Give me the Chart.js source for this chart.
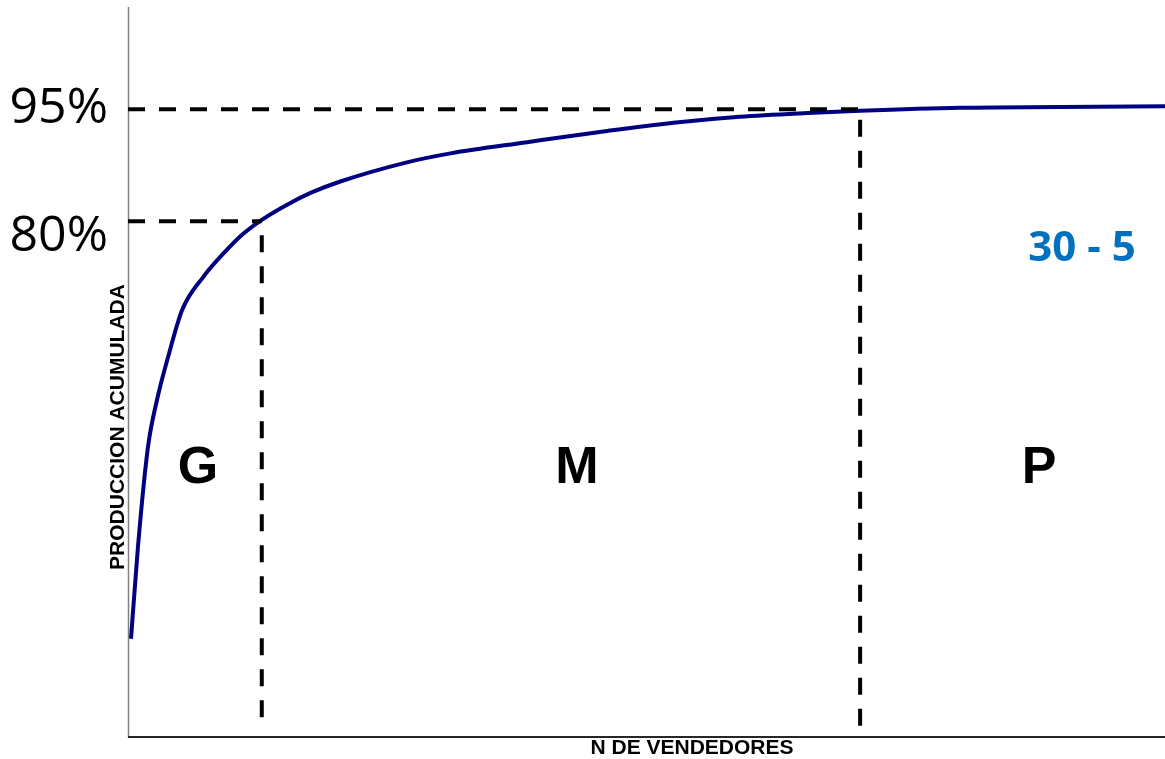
<!DOCTYPE html>
<html>
<head>
<meta charset="utf-8">
<script src="https://cdn.jsdelivr.net/npm/chart.js@4.4.1/dist/chart.umd.min.js"></script>
<style>
  html, body { margin: 0; padding: 0; background: #ffffff; }
  #wrap { width: 1165px; height: 759px; }
</style>
</head>
<body>
<div id="wrap"><canvas id="c" width="1165" height="759"></canvas></div>
<script>
// ---- data ----
const vendedores = [0.29, 0.96, 1.93, 2.80, 3.86, 5.21, 7.23, 9.55, 11.0, 12.9, 15.3, 17.6, 20.4, 26.9, 31.1, 38.5, 46.2, 52.6, 59.0, 65.5, 70.6, 80.2, 89.9, 100];
const produccion = [24.1, 36.4, 49.8, 56.1, 61.8, 68.1, 72.5, 76.2, 78.2, 80.2, 82.2, 83.8, 85.3, 87.9, 89.1, 90.6, 92.1, 93.2, 94.0, 94.5, 94.8, 95.2, 95.3, 95.4];
const cortesX = [12.9, 70.6];        // N de vendedores at the cut points
const cortesY = [80, 95];            // cumulative production at the cut points
const tickLabels = ['80%', '95%'];
const zonas = ['G', 'M', 'P'];
const zonasX = [6.75, 43.3, 87.85];
const zonaY = 47;
const nota = '30 - 5';
const yMin = 10.94, yMax = 108.7, xMin = 0, xMax = 100;

const curve = vendedores.map((x, i) => ({ x: x, y: produccion[i] }));

const dashStyle = {
  borderColor: '#000000', borderWidth: 4, borderDash: [17, 14],
  pointRadius: 0, showLine: true, fill: false, order: 0, tension: 0
};
const datasets = [
  Object.assign({}, dashStyle, { data: [{ x: xMin, y: cortesY[0] }, { x: cortesX[0], y: cortesY[0] }] }),
  Object.assign({}, dashStyle, { data: [{ x: xMin, y: cortesY[1] }, { x: cortesX[1], y: cortesY[1] }] }),
  Object.assign({}, dashStyle, { borderDashOffset: 17, data: [{ x: cortesX[0], y: cortesY[0] }, { x: cortesX[0], y: 12.95 }] }),
  Object.assign({}, dashStyle, { borderDashOffset: 22, data: [{ x: cortesX[1], y: 94.8 }, { x: cortesX[1], y: 11.2 }] }),
  {
    data: curve, borderColor: '#000080', borderWidth: 4, pointRadius: 0,
    showLine: true, fill: false, order: 1, tension: 0.4, cubicInterpolationMode: 'monotone'
  }
];

const decor = {
  id: 'decor',
  beforeDatasetsDraw(chart) {
    const ctx = chart.ctx, a = chart.chartArea;
    ctx.save();
    ctx.strokeStyle = '#808080';
    ctx.lineWidth = 1.5;
    ctx.beginPath();
    ctx.moveTo(a.left + 0.5, a.top);
    ctx.lineTo(a.left + 0.5, a.bottom);
    ctx.stroke();
    ctx.strokeStyle = '#262626';
    ctx.lineWidth = 2;
    ctx.beginPath();
    ctx.moveTo(a.left, a.bottom);
    ctx.lineTo(a.right, a.bottom);
    ctx.stroke();
    ctx.restore();
  },
  afterDraw(chart) {
    const ctx = chart.ctx, a = chart.chartArea;
    const xs = chart.scales.x, ys = chart.scales.y;
    ctx.save();
    // y tick labels
    ctx.fillStyle = '#000000';
    ctx.font = '50px "Open Sans", sans-serif';
    ctx.textAlign = 'right';
    ctx.textBaseline = 'middle';
    const offs = [15, -1];
    cortesY.forEach((v, i) => {
      ctx.fillText(tickLabels[i], 108, ys.getPixelForValue(v) + offs[i]);
    });
    // axis titles
    ctx.font = 'bold 21px "Liberation Sans", Arial, sans-serif';
    ctx.textAlign = 'center';
    ctx.fillText('N DE VENDEDORES', 692, 748);
    ctx.save();
    ctx.translate(118, 427);
    ctx.rotate(-Math.PI / 2);
    ctx.fillText('PRODUCCION ACUMULADA', 0, 0);
    ctx.restore();
    // zone letters
    ctx.font = 'bold 52px "Liberation Sans", Arial, sans-serif';
    zonas.forEach((z, i) => {
      ctx.fillText(z, xs.getPixelForValue(zonasX[i]), ys.getPixelForValue(zonaY) + 1);
    });
    // note
    ctx.fillStyle = '#0070C0';
    ctx.font = 'bold 42px "Open Sans", sans-serif';
    ctx.fillText(nota, xs.getPixelForValue(92.0), ys.getPixelForValue(76.4) + 1);
    ctx.restore();
  }
};

new Chart(document.getElementById('c'), {
  type: 'scatter',
  data: { datasets: datasets },
  options: {
    responsive: false,
    animation: false,
    layout: { padding: { left: 128, right: 0, top: 7, bottom: 22 } },
    plugins: { legend: { display: false }, tooltip: { enabled: false } },
    scales: {
      x: { type: 'linear', min: xMin, max: xMax, display: false },
      y: { type: 'linear', min: yMin, max: yMax, display: false }
    }
  },
  plugins: [decor]
});
</script>
</body>
</html>
